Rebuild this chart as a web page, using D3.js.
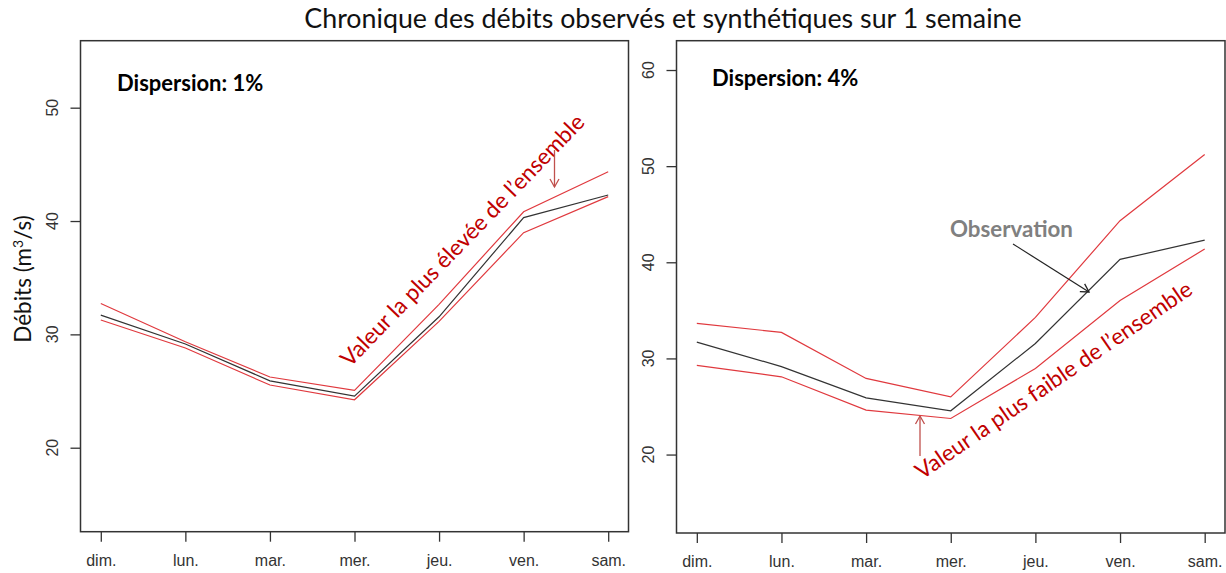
<!DOCTYPE html>
<html>
<head>
<meta charset="utf-8">
<script src="https://cdn.jsdelivr.net/npm/d3@7"></script>
<style>
  body { margin: 0; background: #fff; }
</style>
</head>
<body>
<div id="chart"></div>
<script>
// jours de la semaine et débits (m3/s)
var days = ["dim.", "lun.", "mar.", "mer.", "jeu.", "ven.", "sam."];
var observed = [31.7, 29.15, 25.9, 24.55, 31.55, 40.3, 42.3];
var low1 = [31.27, 28.8, 25.53, 24.23, 31.15, 38.97, 42.15];
var high1 = [32.72, 29.35, 26.24, 25.06, 32.65, 40.82, 44.35];
var low4 = [29.27, 28.09, 24.62, 23.75, 28.96, 36.02, 41.38];
var high4 = [33.65, 32.71, 27.92, 26.0, 34.27, 44.33, 51.21];
var ticks1 = [20, 30, 40, 50];
var ticks4 = [20, 30, 40, 50, 60];

var width = 1226,
    height = 573,
    red = "#e0393e",
    darkRed = "#c00000",
    txtFont = "Lato, 'Open Sans', sans-serif",
    axFont = "'Liberation Sans', Arial, sans-serif";

var svg = d3.select("#chart")
            .append("svg")
            .attr("width", width)
            .attr("height", height)
            .style("font-family", txtFont);

svg.append("rect").attr("width", width).attr("height", height).attr("fill", "#fff");

var defs = svg.append("defs");
function arrowMarker(id, col) {
  defs.append("marker")
      .attr("id", id)
      .attr("markerUnits", "userSpaceOnUse")
      .attr("viewBox", "-10 -6 12 12")
      .attr("markerWidth", 12)
      .attr("markerHeight", 12)
      .attr("orient", "auto")
      .append("path")
      .attr("d", "M-8,-4.5L0,0L-8,4.5")
      .attr("fill", "none")
      .attr("stroke", col)
      .attr("stroke-width", 1.3);
}
arrowMarker("arr-red", "#c0504d");
arrowMarker("arr-black", "#222");

svg.append("text")
   .attr("x", 663)
   .attr("y", 28)
   .attr("text-anchor", "middle")
   .style("font-size", "26.8px")
   .style("fill", "#111")
   .text("Chronique des débits observés et synthétiques sur 1 semaine");

var panels = [
  {x0: 80.5, x1: 628.5, y0: 531.7, y1: 40.7, dom: [12.59, 55.91], ticks: ticks1,
   low: low1, high: high1, label: "Dispersion: 1%", lx: 117, ly: 91, tickX: 52.7},
  {x0: 676.5, x1: 1225, y0: 533, y1: 40.7, dom: [11.84, 63.05], ticks: ticks4,
   low: low4, high: high4, label: "Dispersion: 4%", lx: 712, ly: 86, tickX: 648}
];

panels.forEach((p) => {
  var x = d3.scaleLinear().domain([-0.24, 6.24]).range([p.x0, p.x1]);
  var y = d3.scaleLinear().domain(p.dom).range([p.y0, p.y1]);

  var g = svg.append("g");

  var line = d3.line()
               .x((d, i) => x(i))
               .y((d) => y(d));

  [p.high, p.low].forEach((s) => {
    g.append("path")
     .datum(s)
     .attr("d", line)
     .attr("fill", "none")
     .attr("stroke", red)
     .attr("stroke-width", 1.2);
  });

  g.append("path")
   .datum(observed)
   .attr("d", line)
   .attr("fill", "none")
   .attr("stroke", "#333")
   .attr("stroke-width", 1.2);

  // axe des jours
  var xAxis = d3.axisBottom(x)
                .tickValues(d3.range(days.length))
                .tickFormat((i) => days[i])
                .tickSize(10)
                .tickSizeOuter(0)
                .tickPadding(13);
  var gx = g.append("g")
            .attr("transform", `translate(0,${p.y0})`)
            .call(xAxis);
  gx.select(".domain").remove();
  gx.selectAll("line").attr("stroke", "#333").attr("stroke-width", 1.3);
  gx.selectAll("text")
    .style("font-family", axFont)
    .style("font-size", "16px")
    .style("fill", "#333");

  // axe des débits, étiquettes verticales comme dans R
  var yAxis = d3.axisLeft(y)
                .tickValues(p.ticks)
                .tickFormat("")
                .tickSize(10)
                .tickSizeOuter(0);
  var gy = g.append("g")
            .attr("transform", `translate(${p.x0},0)`)
            .call(yAxis);
  gy.select(".domain").remove();
  gy.selectAll("line").attr("stroke", "#333").attr("stroke-width", 1.3);

  g.selectAll(".ylab")
   .data(p.ticks)
   .enter()
   .append("text")
   .attr("class", "ylab")
   .attr("transform", (d) => `translate(${p.tickX},${y(d)}) rotate(-90)`)
   .attr("text-anchor", "middle")
   .attr("dy", "0.36em")
   .style("font-family", axFont)
   .style("font-size", "16px")
   .style("fill", "#333")
   .text((d) => d);

  g.append("rect")
   .attr("x", p.x0)
   .attr("y", p.y1)
   .attr("width", p.x1 - p.x0)
   .attr("height", p.y0 - p.y1)
   .attr("fill", "none")
   .attr("stroke", "#333")
   .attr("stroke-width", 1.5);

  g.append("text")
   .attr("x", p.lx)
   .attr("y", p.ly)
   .style("font-size", "22px")
   .style("font-weight", "700")
   .style("fill", "#000")
   .text(p.label);
});

// titre de l'axe
var ylab = svg.append("text")
              .attr("transform", "translate(31,279) rotate(-90)")
              .attr("text-anchor", "middle")
              .style("font-size", "22.5px")
              .style("fill", "#111");
ylab.append("tspan").text("Débits (m");
ylab.append("tspan").attr("dy", -8).style("font-size", "14px").text("3");
ylab.append("tspan").attr("dy", 8).text("/s)");

// annotations
svg.append("text")
   .attr("transform", "translate(350,368) rotate(-46)")
   .style("font-size", "22.5px")
   .style("fill", darkRed)
   .text("Valeur la plus élevée de l’ensemble");

svg.append("line")
   .attr("x1", 554.5).attr("y1", 150)
   .attr("x2", 554.5).attr("y2", 187)
   .attr("stroke", "#c0504d")
   .attr("stroke-width", 1.3)
   .attr("marker-end", "url(#arr-red)");

svg.append("text")
   .attr("x", 950)
   .attr("y", 237)
   .style("font-size", "22.3px")
   .style("font-weight", "700")
   .style("fill", "#808080")
   .text("Observation");

svg.append("line")
   .attr("x1", 1013).attr("y1", 244)
   .attr("x2", 1089).attr("y2", 292)
   .attr("stroke", "#222")
   .attr("stroke-width", 1.2)
   .attr("marker-end", "url(#arr-black)");

svg.append("text")
   .attr("transform", "translate(922,480) rotate(-34.5)")
   .style("font-size", "22.5px")
   .style("fill", darkRed)
   .text("Valeur la plus faible de l’ensemble");

svg.append("line")
   .attr("x1", 920).attr("y1", 456)
   .attr("x2", 920).attr("y2", 416)
   .attr("stroke", "#c0504d")
   .attr("stroke-width", 1.3)
   .attr("marker-end", "url(#arr-red)");
</script>
</body>
</html>
